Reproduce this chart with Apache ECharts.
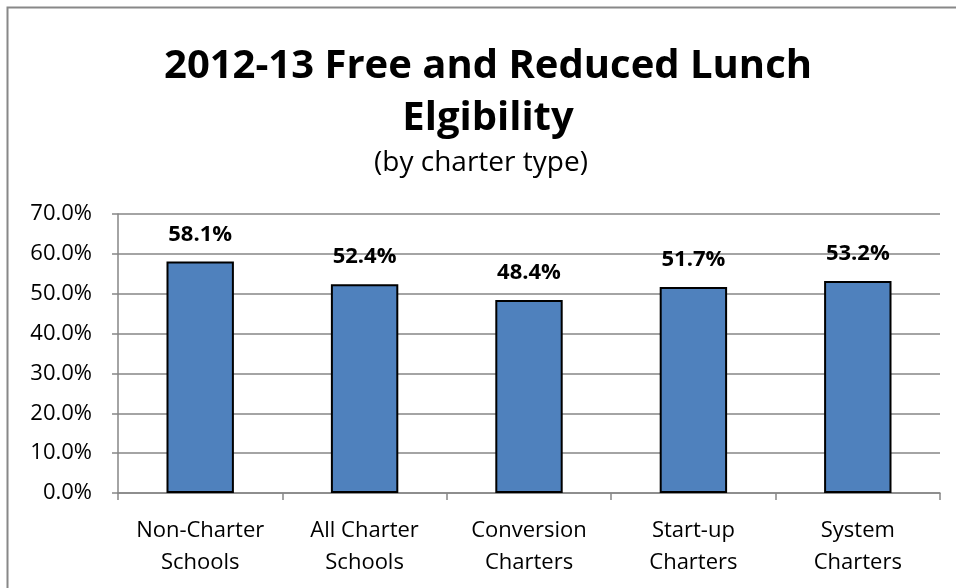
<!DOCTYPE html>
<html>
<head>
<meta charset="UTF-8">
<title>2012-13 Free and Reduced Lunch Elgibility</title>
<style>
  html, body { margin: 0; padding: 0; background: #fff; }
  #chart { width: 956px; height: 588px; }
</style>
</head>
<body>
<div id="chart"></div>
<script src="https://cdn.jsdelivr.net/npm/echarts@6/dist/echarts.min.js"></script>
<script>
var categories = ['Non-Charter\nSchools', 'All Charter\nSchools', 'Conversion\nCharters', 'Start-up\nCharters', 'System\nCharters'];
var values = [58.1, 52.4, 48.4, 51.7, 53.2];
var yTicks = [0, 10, 20, 30, 40, 50, 60, 70];

var font = '"Open Sans", "Liberation Sans", sans-serif';
var chart = echarts.init(document.getElementById('chart'));

var option = {
  animation: false,
  textStyle: { fontFamily: font },
  graphic: [
    // chart frame (only left/top edges visible in the picture)
    { type: 'rect', left: 5, top: 5, shape: { width: 1000, height: 1000 },
      style: { fill: 'none', stroke: '#888', lineWidth: 2 }, silent: true },
    { type: 'text', x: 488, y: 47,
      style: { text: '2012-13 Free and Reduced Lunch', font: 'bold 40px ' + font, fill: '#000', align: 'center' } },
    { type: 'text', x: 488, y: 99,
      style: { text: 'Elgibility', font: 'bold 40px ' + font, fill: '#000', align: 'center' } },
    { type: 'text', x: 481, y: 149,
      style: { text: '(by charter type)', font: '28px ' + font, fill: '#000', align: 'center' } }
  ],
  grid: { left: 118, right: 16, top: 214, bottom: 95, containLabel: false },
  xAxis: {
    type: 'category',
    data: categories,
    axisLine: { lineStyle: { color: '#868686', width: 1.5 } },
    axisTick: { show: true, length: 7, alignWithLabel: false, lineStyle: { color: '#868686', width: 1.5 } },
    axisLabel: { color: '#000', fontSize: 22, lineHeight: 32, margin: 22, fontFamily: font, interval: 0 }
  },
  yAxis: {
    type: 'value',
    min: 0,
    max: 70,
    interval: 10,
    axisLine: { show: true, lineStyle: { color: '#868686', width: 1.5 } },
    axisTick: { show: true, length: 6, lineStyle: { color: '#868686', width: 1.5 } },
    axisLabel: {
      color: '#000', fontSize: 22, margin: 26, fontFamily: font,
      formatter: function (v) { return yTicks.indexOf(v) >= 0 ? v.toFixed(1) + '%' : ''; }
    },
    splitLine: { show: true, lineStyle: { color: '#868686', width: 1.5 } }
  },
  series: [{
    type: 'bar',
    data: values,
    barWidth: '41%',
    itemStyle: { color: '#4f81bd', borderColor: '#000', borderWidth: 2 },
    label: {
      show: true, position: 'top', distance: 16,
      color: '#000', fontSize: 22, fontWeight: 'bold', fontFamily: font,
      formatter: function (p) { return p.value.toFixed(1) + '%'; }
    }
  }]
};

chart.setOption(option);
</script>
</body>
</html>
